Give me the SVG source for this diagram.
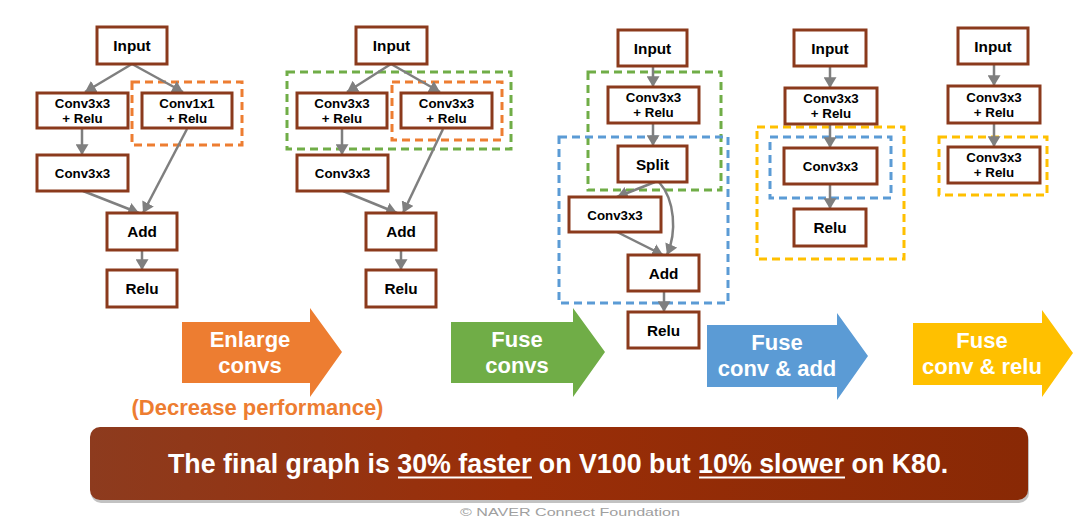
<svg xmlns="http://www.w3.org/2000/svg" width="1085" height="517" viewBox="0 0 1085 517">
<style>
.node rect{fill:#fff;stroke:#8B3A1C;stroke-width:3}
.t{font-family:"Liberation Sans",Arial,sans-serif;font-weight:bold;fill:#000;text-anchor:middle}
.big{font-size:15.3px}
.sm{font-size:13.3px}
.conn line,.conn path{stroke:#7F7F7F;stroke-width:2.5;fill:none;marker-end:url(#ah)}
.dash{fill:none;stroke-width:3;stroke-dasharray:8 5}
.or{stroke:#ED7D31}.gr{stroke:#70AD47}.bl{stroke:#5B9BD5}.ye{stroke:#FFC000}
.at{font-family:"Liberation Sans",Arial,sans-serif;font-weight:bold;font-size:22px;fill:#fff;text-anchor:middle}
</style>
<defs>
<marker id="ah" viewBox="0 0 10 12" refX="10" refY="6" markerWidth="11" markerHeight="13" markerUnits="userSpaceOnUse" orient="auto">
<path d="M0,0 L10,6 L0,12 z" fill="#7F7F7F"/>
</marker>
<linearGradient id="bg" x1="0" y1="0" x2="1" y2="0">
<stop offset="0" stop-color="#8D3B1E"/>
<stop offset="0.45" stop-color="#9A2E08"/>
<stop offset="1" stop-color="#892905"/>
</linearGradient>
</defs>
<rect width="1085" height="517" fill="#fff"/>

<!-- dashed groupings -->
<g id="groups">
<rect class="dash or" x="132" y="82" width="110" height="63"/>
<rect class="dash gr" x="287" y="72" width="224" height="77"/>
<rect class="dash or" x="392" y="82" width="110" height="58"/>
<rect class="dash gr" x="588" y="72" width="133" height="118"/>
<rect class="dash bl" x="559" y="137" width="169" height="166"/>
<rect class="dash ye" x="757" y="127" width="147" height="132"/>
<rect class="dash bl" x="770" y="137" width="121" height="61"/>
<rect class="dash ye" x="939" y="137" width="108" height="58"/>
</g>

<!-- connectors -->
<g id="connectors" class="conn">
<line x1="132" y1="64" x2="85" y2="92"/>
<line x1="132" y1="64" x2="183" y2="92"/>
<line x1="82" y1="128" x2="82" y2="155"/>
<line x1="83" y1="191" x2="139" y2="213"/>
<line x1="187" y1="129" x2="143" y2="213"/>
<line x1="142" y1="250" x2="142" y2="270"/>

<line x1="391" y1="64" x2="347" y2="92"/>
<line x1="391" y1="64" x2="440" y2="92"/>
<line x1="342" y1="128" x2="342" y2="155"/>
<line x1="343" y1="191" x2="397" y2="213"/>
<line x1="443" y1="129" x2="403" y2="213"/>
<line x1="401" y1="250" x2="401" y2="270"/>

<line x1="653" y1="66" x2="653" y2="87"/>
<line x1="653" y1="123" x2="653" y2="146"/>
<line x1="655" y1="182" x2="617" y2="197"/>
<path d="M659,182 C675,200 677,232 667,255"/>
<line x1="617" y1="232" x2="663" y2="255"/>
<line x1="664" y1="291" x2="664" y2="312"/>

<line x1="830" y1="66" x2="830" y2="88"/>
<line x1="830" y1="124" x2="830" y2="148"/>
<line x1="830" y1="184" x2="830" y2="209"/>

<line x1="994" y1="64" x2="994" y2="86"/>
<line x1="994" y1="123" x2="994" y2="147"/>
</g>

<!-- column 1 -->
<g id="c1-input" class="node"><rect x="97" y="27" width="70" height="37"/><text class="t big" x="132" y="51">Input</text></g>
<g id="c1-conv3relu" class="node"><rect x="37" y="93" width="91" height="35"/><text class="t sm" x="82.5" y="108">Conv3x3</text><text class="t sm" x="82.5" y="123">+ Relu</text></g>
<g id="c1-conv1relu" class="node"><rect x="142" y="93" width="90" height="35"/><text class="t sm" x="187" y="108">Conv1x1</text><text class="t sm" x="187" y="123">+ Relu</text></g>
<g id="c1-conv3" class="node"><rect x="37" y="155" width="91" height="36"/><text class="t sm" x="82.5" y="178">Conv3x3</text></g>
<g id="c1-add" class="node"><rect x="107" y="213" width="70" height="37"/><text class="t big" x="142" y="237">Add</text></g>
<g id="c1-relu" class="node"><rect x="107" y="270" width="70" height="37"/><text class="t big" x="142" y="294">Relu</text></g>

<!-- column 2 -->
<g id="c2-input" class="node"><rect x="356" y="27" width="71" height="37"/><text class="t big" x="391.5" y="51">Input</text></g>
<g id="c2-conv3relu-l" class="node"><rect x="297" y="93" width="90" height="35"/><text class="t sm" x="342" y="108">Conv3x3</text><text class="t sm" x="342" y="123">+ Relu</text></g>
<g id="c2-conv3relu-r" class="node"><rect x="401" y="93" width="91" height="35"/><text class="t sm" x="446.5" y="108">Conv3x3</text><text class="t sm" x="446.5" y="123">+ Relu</text></g>
<g id="c2-conv3" class="node"><rect x="297" y="155" width="91" height="36"/><text class="t sm" x="342.5" y="178">Conv3x3</text></g>
<g id="c2-add" class="node"><rect x="366" y="213" width="70" height="37"/><text class="t big" x="401" y="237">Add</text></g>
<g id="c2-relu" class="node"><rect x="366" y="270" width="70" height="37"/><text class="t big" x="401" y="294">Relu</text></g>

<!-- column 3 -->
<g id="c3-input" class="node"><rect x="618" y="30" width="69" height="36"/><text class="t big" x="652.5" y="54">Input</text></g>
<g id="c3-conv3relu" class="node"><rect x="608" y="87" width="91" height="36"/><text class="t sm" x="653.5" y="102">Conv3x3</text><text class="t sm" x="653.5" y="117">+ Relu</text></g>
<g id="c3-split" class="node"><rect x="618" y="146" width="69" height="36"/><text class="t big" x="652.5" y="170">Split</text></g>
<g id="c3-conv3" class="node"><rect x="569" y="197" width="92" height="35"/><text class="t sm" x="615" y="220">Conv3x3</text></g>
<g id="c3-add" class="node"><rect x="628" y="255" width="71" height="36"/><text class="t big" x="663.5" y="279">Add</text></g>
<g id="c3-relu" class="node"><rect x="628" y="312" width="71" height="36"/><text class="t big" x="663.5" y="336">Relu</text></g>

<!-- column 4 -->
<g id="c4-input" class="node"><rect x="794" y="30" width="72" height="36"/><text class="t big" x="830" y="54">Input</text></g>
<g id="c4-conv3relu" class="node"><rect x="785" y="88" width="92" height="36"/><text class="t sm" x="831" y="103">Conv3x3</text><text class="t sm" x="831" y="118">+ Relu</text></g>
<g id="c4-conv3" class="node"><rect x="784" y="148" width="93" height="36"/><text class="t sm" x="830.5" y="171">Conv3x3</text></g>
<g id="c4-relu" class="node"><rect x="794" y="209" width="72" height="37"/><text class="t big" x="830" y="233">Relu</text></g>

<!-- column 5 -->
<g id="c5-input" class="node"><rect x="958" y="28" width="70" height="36"/><text class="t big" x="993" y="52">Input</text></g>
<g id="c5-conv3relu" class="node"><rect x="948" y="86" width="92" height="37"/><text class="t sm" x="994" y="102">Conv3x3</text><text class="t sm" x="994" y="117">+ Relu</text></g>
<g id="c5-conv3relu2" class="node"><rect x="948" y="147" width="92" height="36"/><text class="t sm" x="994" y="162">Conv3x3</text><text class="t sm" x="994" y="177">+ Relu</text></g>

<!-- block arrows -->
<g id="arrow-enlarge">
<polygon points="182,322 310,322 310,308 342,352 310,397 310,383 182,383" fill="#ED7D31"/>
<text class="at" x="250" y="347">Enlarge</text><text class="at" x="250" y="373">convs</text>
</g>
<text x="257.5" y="415" font-family="'Liberation Sans',Arial,sans-serif" font-weight="bold" font-size="22" fill="#ED7D31" text-anchor="middle">(Decrease performance)</text>
<g id="arrow-fuse-convs">
<polygon points="451,322 573,322 573,308 605,352 573,397 573,383 451,383" fill="#70AD47"/>
<text class="at" x="517" y="347">Fuse</text><text class="at" x="517" y="373">convs</text>
</g>
<g id="arrow-fuse-add">
<polygon points="707,325 837,325 837,313 868,356 837,400 837,387 707,387" fill="#5B9BD5"/>
<text class="at" x="777" y="350">Fuse</text><text class="at" x="777" y="376">conv &amp; add</text>
</g>
<g id="arrow-fuse-relu">
<polygon points="913,323 1042,323 1042,310 1073,353 1042,397 1042,385 913,385" fill="#FFC000"/>
<text class="at" x="982" y="348">Fuse</text><text class="at" x="982" y="374">conv &amp; relu</text>
</g>

<!-- banner -->
<g id="banner">
<rect x="91" y="430" width="938" height="73" rx="10" fill="#9a9a9a" opacity="0.6"/>
<rect x="90" y="427" width="938" height="73" rx="10" fill="url(#bg)"/>
<text x="168" y="473" font-family="'Liberation Sans',Arial,sans-serif" font-weight="bold" font-size="26.8" fill="#fff">The final graph is 30% faster on V100 but 10% slower on K80.</text>
<line x1="398" y1="477.5" x2="532" y2="477.5" stroke="#fff" stroke-width="2"/>
<line x1="699" y1="477.5" x2="845" y2="477.5" stroke="#fff" stroke-width="2"/>
</g>
<text x="460" y="515.5" textLength="220" lengthAdjust="spacingAndGlyphs" font-family="'Liberation Sans',Arial,sans-serif" font-size="11" fill="#a0a0a0">©  NAVER Connect Foundation</text>
</svg>
